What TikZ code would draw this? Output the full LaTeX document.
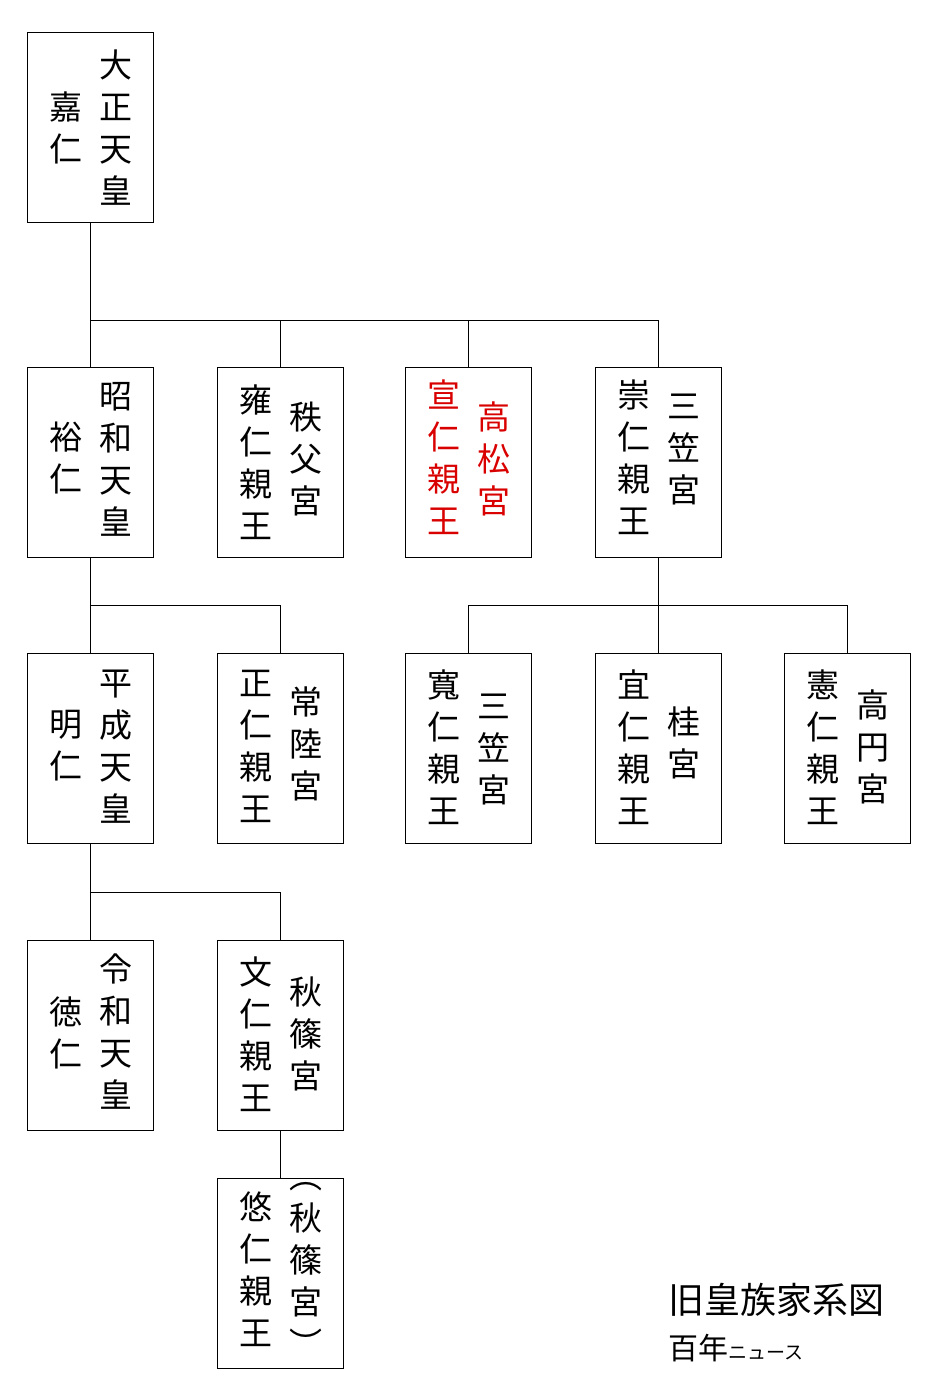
\documentclass[tikz,border=0pt]{standalone}
\usepackage{fontspec}
\newfontfamily\jp{Noto Sans CJK JP}
\usetikzlibrary{calc}
\newcommand\fambox[8]{%
  \node[box] (#1) at (#2,#3) {};
  \node[col,anchor=north,text=#8] (#1r) at ($(#1.north)+(26,#5-18)$) {#4};
  \node[col,anchor=north,text=#8] (#1l) at ($(#1.north)+(-24,#7-18)$) {#6};}
\begin{document}
\begin{tikzpicture}[x=1pt,y=-1pt,
  box/.style={draw,line width=0.8pt,minimum width=126pt,minimum height=190pt,inner sep=0,anchor=north},
  col/.style={inner sep=0,anchor=center,align=center,font=\jp\fontsize{33}{42}\selectfont},
  ln/.style={line width=0.8pt}]
\useasboundingbox (0,0) rectangle (929,1391);
\fambox{a}{90}{32}{大\\正\\天\\皇}{36}{嘉\\仁}{78}{black}
\fambox{b1}{90}{367}{昭\\和\\天\\皇}{33}{裕\\仁}{73}{black}
\fambox{b2}{280}{367}{秩\\父\\宮}{53}{雍\\仁\\親\\王}{36}{black}
\fambox{b3}{468}{367}{高\\松\\宮}{53}{宣\\仁\\親\\王}{31}{red!85!black}
\fambox{b4}{658}{367}{三\\笠\\宮}{45}{崇\\仁\\親\\王}{31}{black}
\fambox{c1}{90}{653}{平\\成\\天\\皇}{35}{明\\仁}{75}{black}
\fambox{c2}{280}{653}{常\\陸\\宮}{52}{正\\仁\\親\\王}{35}{black}
\fambox{c3}{468}{653}{三\\笠\\宮}{59}{寬\\仁\\親\\王}{35}{black}
\fambox{c4}{658}{653}{桂\\宮}{72}{宜\\仁\\親\\王}{35}{black}
\fambox{c5}{847}{653}{高\\円\\宮}{55}{憲\\仁\\親\\王}{35}{black}
\fambox{d1}{90}{940}{令\\和\\天\\皇}{32}{徳\\仁}{75}{black}
\fambox{d2}{280}{940}{秋\\篠\\宮}{55}{文\\仁\\親\\王}{35}{black}
\fambox{e}{280}{1178}{︵\\秋\\篠\\宮\\︶}{22}{悠\\仁\\親\\王}{32}{black}
\coordinate (j1) at (90,320);
\draw[ln] (a.south) -- (b1.north);
\draw[ln] (j1) -| (b2.north); \draw[ln] (j1) -| (b3.north); \draw[ln] (j1) -| (b4.north);
\coordinate (j2) at (90,605);
\draw[ln] (b1.south) -- (c1.north); \draw[ln] (j2) -| (c2.north);
\coordinate (j3) at (658,605);
\draw[ln] (b4.south) -- (c4.north); \draw[ln] (j3) -| (c3.north); \draw[ln] (j3) -| (c5.north);
\coordinate (j4) at (90,892);
\draw[ln] (c1.south) -- (d1.north); \draw[ln] (j4) -| (d2.north);
\draw[ln] (d2.south) -- (e.north);
\node[inner sep=0,anchor=west,font=\jp\fontsize{36}{40}\selectfont] (t1) at (668,1300) {旧皇族家系図};
\node[inner sep=0,anchor=west,font=\jp\fontsize{30}{34}\selectfont] (t2) at (668,1348) {百年{\fontsize{19}{21}\selectfont ニュース}};
\end{tikzpicture}
\end{document}
